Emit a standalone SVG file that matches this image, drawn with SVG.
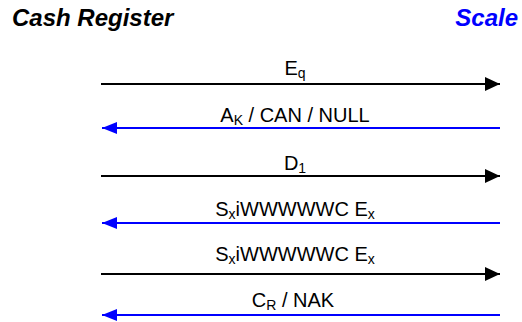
<svg xmlns="http://www.w3.org/2000/svg" width="522" height="322" viewBox="0 0 522 322">
<style>
.title{font-family:"Liberation Sans",Arial,sans-serif;font-size:24px;font-weight:bold;font-style:italic}
.lbl{font-family:"Liberation Sans",Arial,sans-serif;font-size:20px;fill:#000;text-anchor:middle}
.sub{font-size:14px}
.fw{stroke:#000;stroke-width:2;fill:none}
.bw{stroke:#0000FF;stroke-width:2;fill:none}
</style>
<defs>
<marker id="ahBlack" markerUnits="userSpaceOnUse" markerWidth="16" markerHeight="14" refX="15" refY="7" orient="auto">
<path d="M0,0 L15,7 L0,14 Z" fill="#000"/>
</marker>
<marker id="ahBlue" markerUnits="userSpaceOnUse" markerWidth="16" markerHeight="14" refX="15" refY="7" orient="auto">
<path d="M0,1 L15,7 L0,13 Z" fill="#0000FF"/>
</marker>
</defs>
<rect width="522" height="322" fill="#fff"/>
<g id="cash-register">
<text class="title" x="12" y="26" fill="#000">Cash Register</text>
</g>
<g id="scale">
<text class="title" x="518" y="26" fill="#0000FF" text-anchor="end">Scale</text>
</g>
<g id="connectors">
<line class="fw" x1="101" y1="84" x2="500" y2="84" marker-end="url(#ahBlack)"/>
<text class="lbl" x="295" y="75">E<tspan class="sub" dy="3">q</tspan></text>
<line class="bw" x1="500" y1="128" x2="102" y2="128" marker-end="url(#ahBlue)"/>
<text class="lbl" x="295" y="122">A<tspan class="sub" dy="3">K</tspan><tspan dy="-3"> / CAN / NULL</tspan></text>
<line class="fw" x1="101" y1="176" x2="500" y2="176" marker-end="url(#ahBlack)"/>
<text class="lbl" x="295" y="170">D<tspan class="sub" dy="3">1</tspan></text>
<line class="bw" x1="500" y1="223" x2="102" y2="223" marker-end="url(#ahBlue)"/>
<text class="lbl" x="295" y="216">S<tspan class="sub" dy="3">x</tspan><tspan dy="-3">iWWWWWC E</tspan><tspan class="sub" dy="3">x</tspan></text>
<line class="fw" x1="101" y1="274" x2="500" y2="274" marker-end="url(#ahBlack)"/>
<text class="lbl" x="295" y="261">S<tspan class="sub" dy="3">x</tspan><tspan dy="-3">iWWWWWC E</tspan><tspan class="sub" dy="3">x</tspan></text>
<line class="bw" x1="500" y1="315" x2="102" y2="315" marker-end="url(#ahBlue)"/>
<text class="lbl" x="293" y="307">C<tspan class="sub" dy="3">R</tspan><tspan dy="-3"> / NAK</tspan></text>
</g>
</svg>
